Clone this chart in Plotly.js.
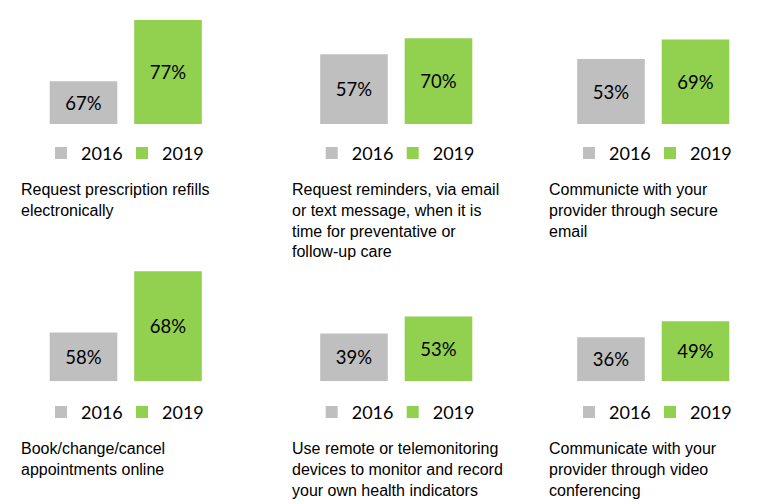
<!DOCTYPE html>
<html>
<head>
<meta charset="utf-8">
<script src="https://cdn.plot.ly/plotly-3.0.1.min.js"></script>
<style>html,body{margin:0;padding:0;background:#fff;}#chart{width:767px;height:504px;}</style>
</head>
<body>
<div id="chart"></div>
<script>
// ---- data ----
const seriesNames = ['2016', '2019'];
const values2016 = [67, 57, 53, 58, 39, 36];
const values2019 = [77, 70, 69, 68, 53, 49];
const panelLabels = [
  'Request prescription refills<br>electronically',
  'Request reminders, via email<br>or text message, when it is<br>time for preventative or<br>follow-up care',
  'Communicte with your<br>provider through secure<br>email',
  'Book/change/cancel<br>appointments online',
  'Use remote or telemonitoring<br>devices to monitor and record<br>your own health indicators',
  'Communicate with your<br>provider through video<br>conferencing'
];
// value-axis range of each small chart (as in the original, two panels do not start at 0)
const yRanges = [[60, 80], [0, 100], [0, 100], [50, 70], [0, 100], [0, 100]];

// ---- layout geometry (pixels) ----
const W = 767, H = 504;
const colColors = ['#BFBFBF', '#92D050'];
const xDomPx = [[41.25, 210.25], [311.75, 480.75], [568.75, 737.75]];
const yDomPx = [[124, 1.5], [381.3, 259]];
const legendCx = [122, 392.7, 650];
const legendCy = [153.3, 412.3];
const labelX = [19, 290, 547];
const labelTop = [179, 438];

const traces = [];
const layout = {
  width: W, height: H,
  margin: {l: 0, r: 0, t: 0, b: 0},
  paper_bgcolor: '#fff', plot_bgcolor: 'rgba(0,0,0,0)',
  barmode: 'overlay',
  showlegend: true,
  annotations: []
};

for (let i = 0; i < 6; i++) {
  const col = i % 3, row = Math.floor(i / 3);
  const n = i === 0 ? '' : String(i + 1);
  const legName = 'legend' + n;
  const vals = [values2016[i], values2019[i]];
  const axisMin = yRanges[i][0];
  seriesNames.forEach((s, k) => {
    traces.push({
      type: 'bar',
      name: s,
      x: [s],
      base: [axisMin],
      y: [vals[k] - axisMin],
      width: [0.8],
      text: [vals[k] + '%'],
      textposition: 'inside',
      insidetextanchor: 'middle',
      constraintext: 'none',
      textfont: {family: 'Lato, Carlito, sans-serif', size: 18.5, color: '#000'},
      marker: {color: colColors[k], line: {width: 0}},
      xaxis: 'x' + n,
      yaxis: 'y' + n,
      legend: legName,
      hoverinfo: 'skip'
    });
  });
  layout['xaxis' + n] = {
    domain: [xDomPx[col][0] / W, xDomPx[col][1] / W],
    type: 'category', categoryorder: 'array', categoryarray: seriesNames,
    range: [-0.5, 1.5], visible: false, fixedrange: true,
    anchor: 'y' + n
  };
  layout['yaxis' + n] = {
    domain: [1 - yDomPx[row][0] / H, 1 - yDomPx[row][1] / H],
    range: yRanges[i], visible: false, fixedrange: true,
    anchor: 'x' + n
  };
  layout[legName] = {
    orientation: 'h',
    x: legendCx[col] / W, xanchor: 'center',
    y: 1 - legendCy[row] / H, yanchor: 'middle',
    font: {family: 'Lato, Carlito, sans-serif', size: 18, color: '#000'},
    bgcolor: 'rgba(0,0,0,0)',
    traceorder: 'normal',
    entrywidth: 36, entrywidthmode: 'pixels',
    itemclick: false, itemdoubleclick: false
  };
  layout.annotations.push({
    xref: 'paper', yref: 'paper',
    x: labelX[col] / W, xanchor: 'left',
    y: 1 - labelTop[row] / H, yanchor: 'top',
    align: 'left', showarrow: false,
    text: panelLabels[i],
    font: {family: 'Liberation Sans, Arial, sans-serif', size: 16, color: '#000'}
  });
}

Plotly.newPlot('chart', traces, layout, {displayModeBar: false, staticPlot: true});
</script>
</body>
</html>
